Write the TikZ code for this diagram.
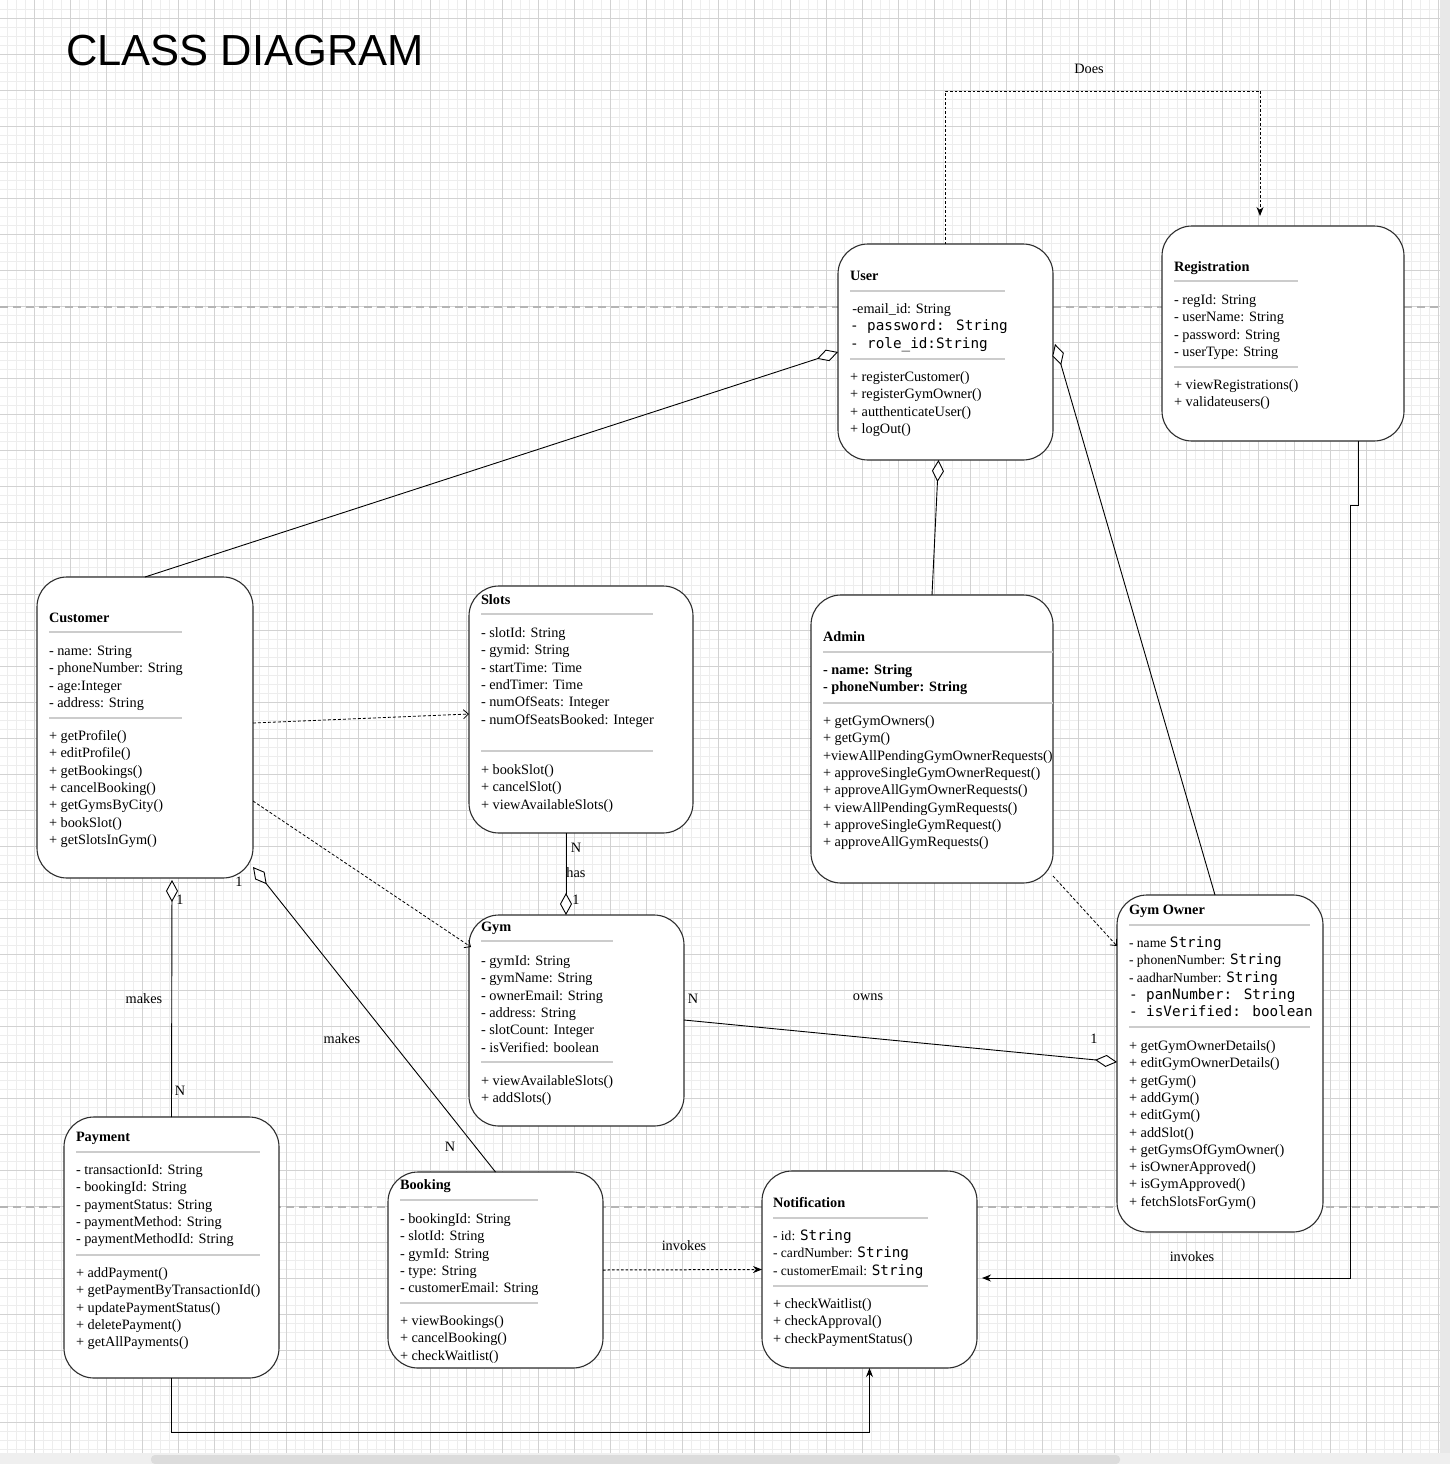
\documentclass[tikz,border=0pt]{standalone}
\usepackage{fontspec}
\setmainfont{Liberation Serif}
\newfontfamily\titlefnt{Liberation Sans}
\newfontfamily\monofnt{DejaVu Sans Mono}
\usetikzlibrary{arrows.meta,calc}
\definecolor{boxc}{HTML}{2E2E2E}
\definecolor{sepc}{HTML}{CCCCCC}
\definecolor{gmaj}{HTML}{D2D2D2}
\definecolor{gmin}{HTML}{EDEDED}
\definecolor{pbc}{HTML}{B5B5B5}
\definecolor{stripr}{HTML}{E8E8E8}
\definecolor{stripb}{HTML}{EFEFEF}
\definecolor{thumb}{HTML}{DCDCDC}
\newcommand\mono[1]{{\monofnt #1}}
\newcommand\sm[1]{{\fontsize{13.6}{17}\selectfont #1}}
\newcommand\clslines[4]{\foreach \t [count=\i from 0] in {#4} {\node[tl] (#1\i) at (#2,{#3+5.5+17.3*\i}) {\t};}}
\newcommand\mkbox[5]{\node[clsbox, minimum width={(#4-#2)*1pt}, minimum height={(#5-#3)*1pt}] (#1) at ({(#2+#4)/2},{(#3+#5)/2}) {};}
\begin{document}
\begin{tikzpicture}[x=1pt,y=-1pt,
  tl/.style={anchor=base west, inner sep=0pt, outer sep=0pt, font=\fontsize{14.3}{17.3}\selectfont},
  ttl/.style={tl, font=\fontsize{14.3}{17.3}\selectfont\bfseries},
  lbl/.style={inner sep=0pt, font=\fontsize{14.3}{17.3}\selectfont},
  clsbox/.style={draw=boxc, line width=1.1pt, rounded corners=30pt, fill=white, inner sep=0pt, outer sep=0pt},
  sepl/.style={draw=sepc, line width=1.5pt},
  ag/.style={draw=black, line width=0.9pt, -{Diamond[fill=white, length=22pt, width=12pt]}},
  dep/.style={draw=black, line width=0.8pt, dash pattern=on 3pt off 2pt, -{Straight Barb[length=5pt, width=9pt]}},
  flow/.style={draw=black, line width=1pt, -{Stealth[length=9pt, width=7pt]}},
  dflow/.style={flow, dash pattern=on 3pt off 2pt}]
% background and canvas
\fill[white] (0,0) rectangle (1440,1453);
\useasboundingbox (0,0) rectangle (1450,1464);
\foreach \x in {7.3,16.3,...,1440} \draw[gmin, line width=0.8pt] (\x,0) -- (\x,1453);
\foreach \y in {9.3,18.3,...,1453} \draw[gmin, line width=0.8pt] (0,\y) -- (1440,\y);
\foreach \x in {34.3,70.3,...,1440} \draw[gmaj, line width=0.9pt] (\x,0) -- (\x,1453);
\foreach \y in {18.3,54.3,...,1453} \draw[gmaj, line width=0.9pt] (0,\y) -- (1440,\y);
\fill[stripr] (1440,0) rectangle (1450,1464);
\fill[stripb] (0,1453) rectangle (1450,1464);
\fill[thumb, rounded corners=4pt] (151,1455) rectangle (1120,1464);
% page breaks
\draw[pbc, line width=1.2pt, dash pattern=on 8pt off 5pt] (0,307) -- (1440,307);
\draw[pbc, line width=1.2pt, dash pattern=on 8pt off 5pt] (0,1207) -- (1440,1207);
% title
\node[anchor=base west, inner sep=0pt, font=\titlefnt\fontsize{43.5}{44}\selectfont] (title) at (66,66) {CLASS DIAGRAM};
% boxes
\mkbox{user}{838}{244}{1053}{460}
\mkbox{reg}{1162}{226}{1404}{441}
\mkbox{cust}{37}{577}{253}{878}
\mkbox{slots}{469}{586}{693}{833}
\mkbox{admin}{811}{595}{1053}{883}
\mkbox{gym}{469}{915}{684}{1126}
\mkbox{gow}{1117}{895}{1323}{1232}
\mkbox{pay}{64}{1117}{279}{1378}
\mkbox{book}{388}{1172}{603}{1368}
\mkbox{notif}{762}{1171}{977}{1368}
% User
\node[ttl] (user-t) at (850,280.5) {User};
\draw[sepl] (850,291) -- (1005,291);
\clslines{user-a}{850}{308}{{\,-email\_id: String},{\mono{- password: String}},{\mono{- role\_id:String}}}
\draw[sepl] (850,359) -- (1005,359);
\clslines{user-m}{850}{376}{{+ registerCustomer()},{+ registerGymOwner()},{+ autthenticateUser()},{+ logOut()}}
% Registration
\node[ttl] (reg-t) at (1174,271.5) {Registration};
\draw[sepl] (1174,281) -- (1298,281);
\clslines{reg-a}{1174}{299}{{- regId: String},{- userName: String},{- password: String},{- userType: String}}
\draw[sepl] (1174,367) -- (1298,367);
\clslines{reg-m}{1174}{384}{{+ viewRegistrations()},{+ validateusers()}}
% Customer
\node[ttl] (cust-t) at (49,622.5) {Customer};
\draw[sepl] (49,632) -- (182,632);
\clslines{cust-a}{49}{650}{{- name: String},{- phoneNumber: String},{- age:Integer},{- address: String}}
\draw[sepl] (49,718) -- (182,718);
\clslines{cust-m}{49}{735}{{+ getProfile()},{+ editProfile()},{+ getBookings()},{+ cancelBooking()},{+ getGymsByCity()},{+ bookSlot()},{+ getSlotsInGym()}}
% Slots
\node[ttl] (slots-t) at (481,604.5) {Slots};
\draw[sepl] (481,614) -- (653,614);
\clslines{slots-a}{481}{632}{{- slotId: String},{- gymid: String},{- startTime: Time},{- endTimer: Time},{- numOfSeats: Integer},{- numOfSeatsBooked: Integer}}
\draw[sepl] (481,751) -- (653,751);
\clslines{slots-m}{481}{769}{{+ bookSlot()},{+ cancelSlot()},{+ viewAvailableSlots()}}
% Admin
\node[ttl] (admin-t) at (823,641.5) {Admin};
\draw[sepl] (823,652) -- (1053,652);
\clslines{admin-a}{823}{669}{{\textbf{- name: String}},{\textbf{- phoneNumber: String}}}
\draw[sepl] (823,703) -- (1053,703);
\clslines{admin-m}{823}{720}{{+ getGymOwners()},{+ getGym()},{+viewAllPendingGymOwnerRequests()},{+ approveSingleGymOwnerRequest()},{+ approveAllGymOwnerRequests()},{+ viewAllPendingGymRequests()},{+ approveSingleGymRequest()},{+ approveAllGymRequests()}}
% Gym
\node[ttl] (gym-t) at (481,931.5) {Gym};
\draw[sepl] (481,941) -- (613,941);
\clslines{gym-a}{481}{960}{{- gymId: String},{- gymName: String},{- ownerEmail: String},{- address: String},{- slotCount: Integer},{- isVerified: boolean}}
\draw[sepl] (481,1062) -- (613,1062);
\clslines{gym-m}{481}{1080}{{+ viewAvailableSlots()},{+ addSlots()}}
% Gym Owner
\node[ttl] (gow-t) at (1129,914.5) {Gym Owner};
\draw[sepl] (1129,925) -- (1310,925);
\clslines{gow-a}{1129}{942}{{\sm{- name} \mono{String}},{\sm{- phonenNumber:} \mono{String}},{\sm{- aadharNumber:} \mono{String}},{\mono{- panNumber: String}},{\mono{- isVerified: boolean}}}
\draw[sepl] (1129,1027) -- (1310,1027);
\clslines{gow-m}{1129}{1045}{{+ getGymOwnerDetails()},{+ editGymOwnerDetails()},{+ getGym()},{+ addGym()},{+ editGym()},{+ addSlot()},{+ getGymsOfGymOwner()},{+ isOwnerApproved()},{+ isGymApproved()},{+ fetchSlotsForGym()}}
% Payment
\node[ttl] (pay-t) at (76,1141.5) {Payment};
\draw[sepl] (76,1152) -- (260,1152);
\clslines{pay-a}{76}{1169}{{- transactionId: String},{- bookingId: String},{- paymentStatus: String},{- paymentMethod: String},{- paymentMethodId: String}}
\draw[sepl] (76,1255) -- (260,1255);
\clslines{pay-m}{76}{1272}{{+ addPayment()},{+ getPaymentByTransactionId()},{+ updatePaymentStatus()},{+ deletePayment()},{+ getAllPayments()}}
% Booking
\node[ttl] (book-t) at (400,1189.5) {Booking};
\draw[sepl] (400,1200) -- (538,1200);
\clslines{book-a}{400}{1218}{{- bookingId: String},{- slotId: String},{- gymId: String},{- type: String},{- customerEmail: String}}
\draw[sepl] (400,1303) -- (538,1303);
\clslines{book-m}{400}{1320}{{+ viewBookings()},{+ cancelBooking()},{+ checkWaitlist()}}
% Notification
\node[ttl] (notif-t) at (773,1207.5) {Notification};
\draw[sepl] (773,1218) -- (928,1218);
\clslines{notif-a}{773}{1235}{{\sm{- id:} \mono{String}},{\sm{- cardNumber:} \mono{String}},{\sm{- customerEmail:} \mono{String}}}
\draw[sepl] (773,1286) -- (928,1286);
\clslines{notif-m}{773}{1303}{{+ checkWaitlist()},{+ checkApproval()},{+ checkPaymentStatus()}}
% connectors
\coordinate (regin) at (1260,216);
\coordinate (regout) at ($(reg.south)+(75,0)$);
\draw[ag] (cust.north) -- (user.west);
\draw[ag] ($(gow.north)+(-5,0)$) -- ($(user.east)+(2,-8)$);
\draw[ag] (admin.north) -- ($(user.south)+(-7,0)$);
\draw[dflow, dash pattern=on 2.5pt off 2pt] (user.north) |- ($(regin)+(0,-125)$) -| (regin);
\draw[flow] (regout) -- ++(0,64) -- ++(-8,0) |- ($(notif.east)+(5,8.5)$);
\draw[dep] ($(cust.east)+(0,-4.5)$) -- ($(slots.west)+(0,4.5)$);
\draw[dep] ($(cust.east)+(0,73.5)$) -- ($(gym.west)+(2,-73.5)$);
\draw[dep] ($(admin.east)+(0,137)$) -- ($(gow.west)+(0,-117.5)$);
\draw[ag] ($(slots.south)+(-15,0)$) -- ($(gym.north)+(-10.5,0)$);
\draw[ag] (pay.north) -- ($(cust.south)+(27,2)$);
\draw[ag] (book.north) -- ($(cust.south east)+(0,-11)$);
\draw[ag] ($(gym.east)+(0,-0.5)$) -- ($(gow.west)+(0,-1.5)$);
\draw[dflow, dash pattern=on 2.5pt off 2pt] ($(book.east)+(0,0)$) -- (notif.west);
\draw[flow] (pay.south) -- ++(0,54) -| (notif.south);
% labels
\node[lbl] (l-does) at (1089,69) {Does};
\node[lbl] (l-inv1) at (1192,1257) {invokes};
\node[lbl] (l-inv2) at (684,1246) {invokes};
\node[lbl] (l-sn) at (576,848) {N};
\node[lbl] (l-has) at (576,873) {has};
\node[lbl] (l-s1) at (576,900) {1};
\node[lbl] (l-p1) at (180,900) {1};
\node[lbl] (l-pmk) at (144,999) {makes};
\node[lbl] (l-pn) at (180,1091) {N};
\node[lbl] (l-b1) at (239,882) {1};
\node[lbl] (l-bmk) at (342,1039) {makes};
\node[lbl] (l-bn) at (450,1147) {N};
\node[lbl] (l-on) at (693,999) {N};
\node[lbl] (l-owns) at (868,997) {owns};
\node[lbl] (l-o1) at (1094,1039) {1};
\end{tikzpicture}
\end{document}
